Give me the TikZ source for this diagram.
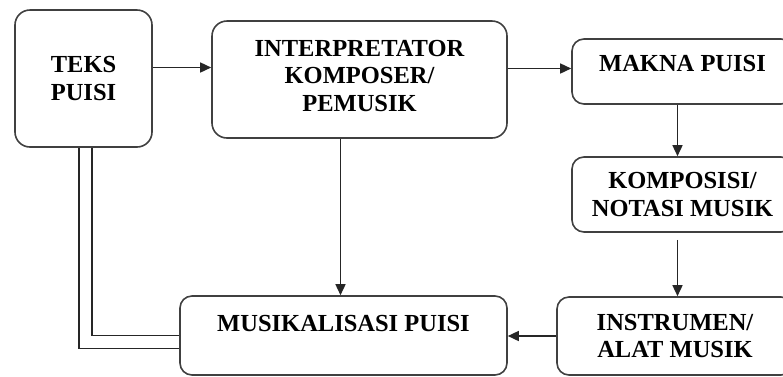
\documentclass[tikz,border=0pt]{standalone}
\usepackage{fontspec}
\setmainfont{Liberation Serif}
\usetikzlibrary{arrows.meta}

\begin{document}
\begin{tikzpicture}[x=1pt,y=-1pt,
  blok/.style={draw=black!75,line width=1.6pt,rounded corners=12pt,inner sep=0pt,
    align=center,font=\fontsize{24.5}{27.5}\selectfont\bfseries},
  panah/.style={draw=black!85,line width=1.5pt,-{Triangle[length=11pt,width=10pt]}}]
\useasboundingbox (0,0) rectangle (783,376);
\clip (0,0) rectangle (783,376);
\node[blok,rounded corners=15pt,minimum width=137pt,minimum height=137pt] (teks) at (83.5,78.5) {TEKS\\PUISI};
\node[blok,rounded corners=15pt,minimum width=295pt,minimum height=117pt,text depth=8pt] (interp) at (359.5,79.5) {INTERPRETATOR\\KOMPOSER/\\PEMUSIK};
\node[blok,minimum width=221pt,minimum height=65pt,text depth=17pt] (makna) at (682.5,71.5) {MAKNA PUISI};
\node[blok,minimum width=221pt,minimum height=75pt] (komp) at (682.5,194.5) {KOMPOSISI/\\NOTASI MUSIK};
\node[blok,minimum width=236pt,minimum height=78pt] (instr) at (675,336) {INSTRUMEN/\\ALAT MUSIK};
\node[blok,minimum width=327pt,minimum height=79pt,text depth=25pt] (musik) at (343.5,335.5) {MUSIKALISASI PUISI};
% arrows
\draw[panah] ([yshift=11pt]teks.east) -- ([yshift=11pt]teks.east -| interp.west);
\draw[panah] ([yshift=11pt]interp.east) -- ([yshift=11pt]interp.east -| makna.west);
\draw[panah] ([xshift=-5pt]makna.south) -- ([xshift=-5pt]makna.south |- komp.north);
\draw[panah] ([xshift=-5pt,yshift=-7pt]komp.south) -- ([xshift=-5pt]komp.south |- instr.north);
\draw[panah] (instr.west) -- (instr.west -| musik.east);
\draw[panah] ([xshift=-3pt]musik.north |- interp.south) -- ([xshift=-3pt]musik.north);
% double line
\draw[black!85,line width=1.4pt,double,double distance=11.6pt] ([xshift=2pt]teks.south) |- ([yshift=-6.5pt]musik.west);
\end{tikzpicture}
\end{document}
